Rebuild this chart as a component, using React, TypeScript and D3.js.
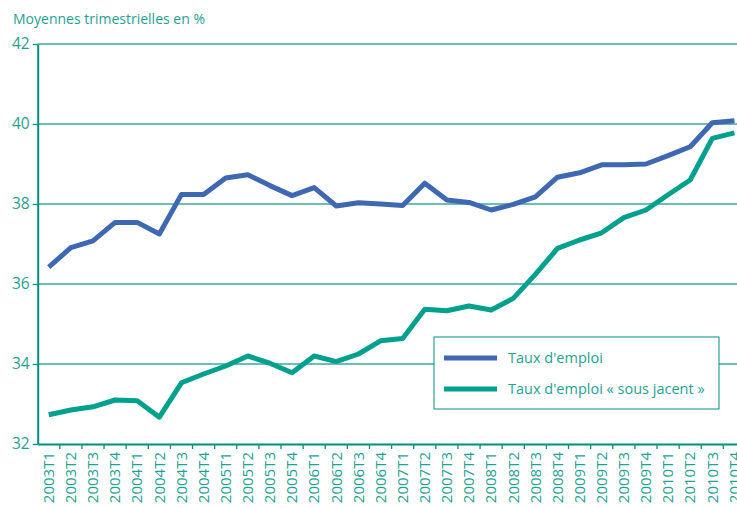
import { axisBottom, axisLeft, line, scaleBand, scaleLinear, select } from "d3";
import { useEffect, useRef } from "react";

const quarters = [
  "2003T1", "2003T2", "2003T3", "2003T4",
  "2004T1", "2004T2", "2004T3", "2004T4",
  "2005T1", "2005T2", "2005T3", "2005T4",
  "2006T1", "2006T2", "2006T3", "2006T4",
  "2007T1", "2007T2", "2007T3", "2007T4",
  "2008T1", "2008T2", "2008T3", "2008T4",
  "2009T1", "2009T2", "2009T3", "2009T4",
  "2010T1", "2010T2", "2010T3", "2010T4",
];

const tauxEmploi = [
  36.42, 36.91, 37.08, 37.54, 37.54, 37.25, 38.24, 38.24,
  38.65, 38.73, 38.46, 38.21, 38.41, 37.95, 38.03, 38.0,
  37.96, 38.52, 38.1, 38.04, 37.85, 37.99, 38.18, 38.67,
  38.78, 38.98, 38.98, 39.0, 39.21, 39.43, 40.03, 40.08,
];

const tauxSousJacent = [
  32.73, 32.85, 32.93, 33.1, 33.08, 32.67, 33.53, 33.75,
  33.95, 34.2, 34.02, 33.78, 34.2, 34.06, 34.25, 34.58,
  34.64, 35.37, 35.33, 35.45, 35.35, 35.64, 36.24, 36.89,
  37.1, 37.28, 37.66, 37.85, 38.23, 38.6, 39.64, 39.78,
];

const yTicks = [32, 34, 36, 38, 40, 42];

const series = [
  { name: "Taux d'emploi", values: tauxEmploi, color: "#3f68b2" },
  { name: "Taux d'emploi « sous jacent »", values: tauxSousJacent, color: "#00a08e" },
];

const TEAL = "#00907f";
const TEXT = "#1fa292";
const FONT = "'Open Sans', sans-serif";

function App() {
  const svgRef = useRef(null);

  useEffect(() => {
    const svg = select(svgRef.current);
    svg.selectAll("*").remove();

    const x = scaleBand().domain(quarters).range([37.7, 745.5]);
    const y = scaleLinear().domain([32, 42]).range([444, 44]);
    const cx = (i: number) => (x(quarters[i]) as number) + x.bandwidth() / 2;

    svg
      .append("text")
      .attr("x", 13)
      .attr("y", 24)
      .attr("fill", TEXT)
      .style("font-family", FONT)
      .style("font-size", "14px")
      .text("Moyennes trimestrielles en %");

    // gridlines
    svg
      .append("g")
      .selectAll("line")
      .data(yTicks.slice(1))
      .join("line")
      .attr("x1", 37.7)
      .attr("x2", 737)
      .attr("y1", (d) => y(d))
      .attr("y2", (d) => y(d))
      .attr("stroke", "#3aa89b")
      .attr("stroke-width", 1.3);

    // y axis
    const gy = svg
      .append("g")
      .attr("transform", "translate(37.7,0)")
      .call(axisLeft(y).tickValues(yTicks).tickSize(5).tickSizeOuter(0));
    gy.select(".domain").attr("stroke", TEAL).attr("stroke-width", 2);
    gy.selectAll(".tick line").attr("stroke", TEAL).attr("stroke-width", 1.3);
    gy.selectAll(".tick text")
      .attr("fill", TEXT)
      .attr("x", -8)
      .style("font-family", FONT)
      .style("font-size", "15.5px");

    // x axis
    const gx = svg
      .append("g")
      .attr("transform", "translate(0,444)")
      .call(axisBottom(x).tickSize(0).tickSizeOuter(0));
    gx.select(".domain").attr("stroke", TEAL).attr("stroke-width", 2.2);
    gx.selectAll(".tick text")
      .attr("fill", TEXT)
      .attr("transform", "rotate(-90)")
      .attr("x", -8)
      .attr("y", 0)
      .attr("dy", "0.35em")
      .attr("text-anchor", "end")
      .style("font-family", FONT)
      .style("font-size", "15px");
    // boundary tick marks
    gx.append("g")
      .selectAll("line")
      .data(quarters.slice(1))
      .join("line")
      .attr("x1", (d) => x(d) as number)
      .attr("x2", (d) => x(d) as number)
      .attr("y1", 0)
      .attr("y2", 5)
      .attr("stroke", TEAL)
      .attr("stroke-width", 1.3);

    // lines
    const lineGen = line<number>()
      .x((_, i) => cx(i))
      .y((d) => y(d));
    svg
      .append("g")
      .selectAll("path")
      .data(series)
      .join("path")
      .attr("d", (s) => lineGen(s.values))
      .attr("fill", "none")
      .attr("stroke", (s) => s.color)
      .attr("stroke-width", 5)
      .attr("stroke-linejoin", "round");

    // legend
    const lg = svg.append("g").attr("transform", "translate(434,337)");
    lg.append("rect")
      .attr("width", 285)
      .attr("height", 72)
      .attr("fill", "white")
      .attr("stroke", TEAL)
      .attr("stroke-width", 1);
    series.forEach((s, i) => {
      const yy = 21 + i * 31;
      lg.append("line")
        .attr("x1", 10)
        .attr("x2", 63)
        .attr("y1", yy)
        .attr("y2", yy)
        .attr("stroke", s.color)
        .attr("stroke-width", 5);
      lg.append("text")
        .attr("x", 74)
        .attr("y", yy)
        .attr("dy", "0.35em")
        .attr("fill", TEXT)
        .style("font-family", FONT)
        .style("font-size", "14.5px")
        .text(s.name);
    });
  }, []);

  return (
    <svg
      ref={svgRef}
      width={737}
      height={508}
      style={{ position: "absolute", left: 0, top: 0, background: "white" }}
    ></svg>
  );
}

export default App;
